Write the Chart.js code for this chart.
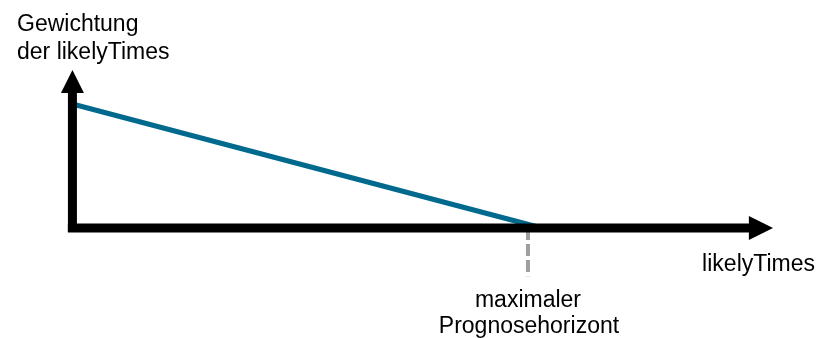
<!DOCTYPE html>
<html>
<head>
<meta charset="utf-8">
<script src="https://cdn.jsdelivr.net/npm/chart.js@4"></script>
<style>
  html, body { margin: 0; padding: 0; background: #fff; }
  #wrap { width: 818px; height: 338px; position: relative; }
</style>
</head>
<body>
<div id="wrap"><canvas id="weight-chart"></canvas></div>
<script>
// weighting of likelyTimes: falls from 1 at t=0 to ~0 at the max forecast horizon
const weightX = [0, 1.018];
const weightY = [1, 0.012];

// dashed marker below the horizon
const horizonX = [1, 1];
const horizonY = [0, -0.39];

// axis extents (in data units)
const xAxisRange = [-0.01, 1.485, 1.538]; // start, arrow base, arrow tip
const yAxisRange = [-0.032, 1.089, 1.274];

const yTitle = ['Gewichtung', 'der likelyTimes'];
const xTitle = 'likelyTimes';
const horizonLabel = ['maximaler', 'Prognosehorizont'];

const FONT = '23px "Liberation Sans", Arial, sans-serif';

// axes + arrows + labels
const axesPlugin = {
    id: 'axesArrows',
    afterDatasetsDraw(chart) {
        const ctx = chart.ctx;
        const xs = chart.scales.x, ys = chart.scales.y;
        const x0 = xs.getPixelForValue(0), y0 = ys.getPixelForValue(0);

        ctx.save();
        ctx.fillStyle = '#000';
        ctx.strokeStyle = '#000';
        ctx.lineWidth = 9;
        ctx.lineCap = 'butt';

        // x axis
        const xa = xs.getPixelForValue(xAxisRange[0]);
        const xb = xs.getPixelForValue(xAxisRange[1]);
        const xt = xs.getPixelForValue(xAxisRange[2]);
        ctx.beginPath();
        ctx.moveTo(xa, y0);
        ctx.lineTo(xb + 1, y0);
        ctx.stroke();
        ctx.beginPath();
        ctx.moveTo(xt, y0);
        ctx.lineTo(xb, y0 - 12);
        ctx.lineTo(xb, y0 + 12);
        ctx.closePath();
        ctx.fill();

        // y axis
        const ya = ys.getPixelForValue(yAxisRange[0]);
        const yb = ys.getPixelForValue(yAxisRange[1]);
        const yt = ys.getPixelForValue(yAxisRange[2]);
        ctx.beginPath();
        ctx.moveTo(x0, ya);
        ctx.lineTo(x0, yb - 1);
        ctx.stroke();
        ctx.beginPath();
        ctx.moveTo(x0, yt);
        ctx.lineTo(x0 - 11.5, yb);
        ctx.lineTo(x0 + 11.5, yb);
        ctx.closePath();
        ctx.fill();

        // labels
        ctx.font = FONT;
        ctx.fillStyle = '#000';
        ctx.textBaseline = 'alphabetic';
        ctx.textAlign = 'left';
        ctx.fillText(yTitle[0], 17, 31);
        ctx.fillText(yTitle[1], 17, 59);

        ctx.textAlign = 'right';
        ctx.fillText(xTitle, 815, 271);

        const hx = xs.getPixelForValue(horizonX[0]);
        ctx.textAlign = 'center';
        ctx.fillText(horizonLabel[0], hx, 307);
        ctx.fillText(horizonLabel[1], hx + 1, 333);
        ctx.restore();
    }
};

new Chart(document.getElementById('weight-chart'), {
    type: 'line',
    data: {
        datasets: [
            {
                label: 'Gewichtung',
                data: weightX.map((x, i) => ({ x: x, y: weightY[i] })),
                borderColor: '#006a8e',
                borderWidth: 5,
                pointRadius: 0,
                fill: false,
                tension: 0
            },
            {
                label: 'Prognosehorizont',
                data: horizonX.map((x, i) => ({ x: x, y: horizonY[i] })),
                borderColor: '#9e9e9e',
                borderWidth: 4,
                borderDash: [12, 4],
                pointRadius: 0,
                fill: false
            }
        ]
    },
    options: {
        responsive: true,
        maintainAspectRatio: false,
        animation: false,
        layout: { padding: 0 },
        plugins: { legend: { display: false }, tooltip: { enabled: false } },
        scales: {
            x: { type: 'linear', display: false, min: -0.159, max: 1.6367 },
            y: { type: 'linear', display: false, min: -0.887, max: 1.8387 }
        }
    },
    plugins: [axesPlugin]
});
</script>
</body>
</html>
